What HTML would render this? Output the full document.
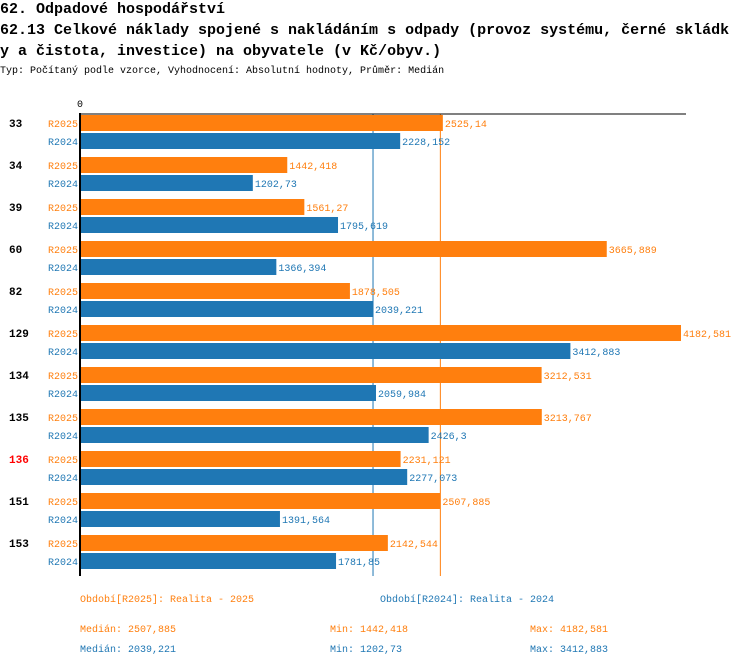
<!DOCTYPE html>
<html><head><meta charset="utf-8">
<style>
html,body{margin:0;padding:0;background:#fff;}
body{width:750px;height:666px;overflow:hidden;font-family:"Liberation Mono",monospace;}
.t{position:absolute;left:0;font-weight:bold;font-size:15px;color:#000;white-space:nowrap;}
</style></head><body>
<div class="t" style="top:1px">62. Odpadové hospodářství</div>
<div class="t" style="top:22px">62.13 Celkové náklady spojené s nakládáním s odpady (provoz systému, černé skládk</div>
<div class="t" style="top:43px">y a čistota, investice) na obyvatele (v Kč/obyv.)</div>
<div style="position:absolute;left:0;top:66px;font-size:10px;white-space:nowrap">Typ: Počítaný podle vzorce, Vyhodnocení: Absolutní hodnoty, Průměr: Medián</div>
<svg id="c" width="750" height="666" style="position:absolute;left:0;top:0" font-family="Liberation Mono, monospace" font-size="10"></svg>
<script>
const categories=["33","34","39","60","82","129","134","135","136","151","153"];
const r2025=[2525.14,1442.418,1561.27,3665.889,1878.505,4182.581,3212.531,3213.767,2231.121,2507.885,2142.544];
const r2024=[2228.152,1202.73,1795.619,1366.394,2039.221,3412.883,2059.984,2426.3,2277.073,1391.564,1781.85];
const labels2025=["2525,14","1442,418","1561,27","3665,889","1878,505","4182,581","3212,531","3213,767","2231,121","2507,885","2142,544"];
const labels2024=["2228,152","1202,73","1795,619","1366,394","2039,221","3412,883","2059,984","2426,3","2277,073","1391,564","1781,85"];
const highlight="136";
const median2025=2507.885, median2024=2039.221;
const statValues2025=["2507,885","1442,418","4182,581"];
const statValues2024=["2039,221","1202,73","3412,883"];
const OR="#ff7f0e", BL="#1f77b4";
const svg=document.getElementById('c');
const NS="http://www.w3.org/2000/svg";
const x0=80, xMax=4182.581, wMax=601;
const xs=v=>x0+v/xMax*wMax;
const gy=i=>115+42*i;
function mk(tag,attrs,txt){const e=document.createElementNS(NS,tag);for(const k in attrs)e.setAttribute(k,attrs[k]);if(txt!=null)e.textContent=txt;svg.appendChild(e);return e;}
const bottom=576;
let e;
e=mk('line',{x1:xs(median2024),x2:xs(median2024),y1:114,y2:bottom,stroke:BL,'stroke-width':1});


e=mk('line',{x1:xs(median2025),x2:xs(median2025),y1:114,y2:bottom,stroke:OR,'stroke-width':1});


e=mk('text',{x:77,y:107},'0');


categories.forEach((c,i)=>{
  const y=gy(i);
  e=mk('text',{x:9,y:y+12,'font-weight':'bold','font-size':'11',fill:c===highlight?'#ff0000':'#000'},c);
  
  
  e=mk('text',{x:48,y:y+12,fill:OR},'R2025');
  
  
  e=mk('text',{x:48,y:y+30,fill:BL},'R2024');
  
  
  e=mk('rect',{x:x0,y:y,width:xs(r2025[i])-x0,height:16,fill:OR});
  
  
  e=mk('rect',{x:x0,y:y+18,width:xs(r2024[i])-x0,height:16,fill:BL});
  
  
  e=mk('text',{x:xs(r2025[i])+2,y:y+12,fill:OR},labels2025[i]);
  
  
  e=mk('text',{x:xs(r2024[i])+2,y:y+30,fill:BL},labels2024[i]);
  
  
});
e=mk('line',{x1:x0,x2:686,y1:114,y2:114,stroke:'#000','stroke-width':1});


e=mk('line',{x1:x0,x2:x0,y1:113,y2:bottom,stroke:'#000','stroke-width':2});


e=mk('text',{x:80,y:602,fill:OR},'Období[R2025]: Realita - 2025');


e=mk('text',{x:380,y:602,fill:BL},'Období[R2024]: Realita - 2024');


const statNames=["Medián: ","Min: ","Max: "], statX=[80,330,530];
statNames.forEach((n,j)=>{
  e=mk('text',{x:statX[j],y:632,fill:OR},n+statValues2025[j]);
  
  
  e=mk('text',{x:statX[j],y:652,fill:BL},n+statValues2024[j]);
  
  
});
</script>
</body></html>
